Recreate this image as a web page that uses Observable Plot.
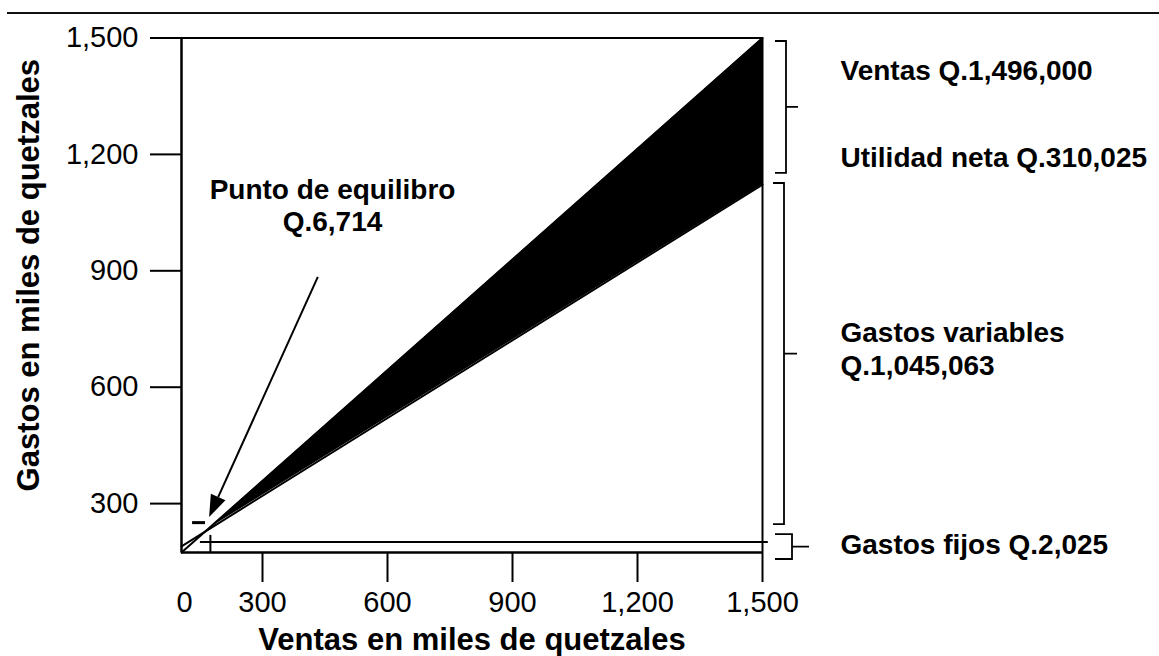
<!DOCTYPE html>
<html><head><meta charset="utf-8">
<script src="https://cdn.jsdelivr.net/npm/d3@7"></script>
<script src="https://cdn.jsdelivr.net/npm/@observablehq/plot@0.6"></script>
<style>
body{margin:0;background:#fff;}
#wrap{position:relative;width:1159px;height:656px;overflow:hidden;background:#fff;}
#rule{position:absolute;left:7px;right:0;top:12px;border-top:2.5px solid #111;}
#chart{position:absolute;left:0;top:0;}
svg text{font-family:"Liberation Sans",Arial,Helvetica,sans-serif;}
</style></head><body><div id="wrap"><div id="rule"></div><div id="chart"></div></div>
<script>
// ---- data (miles de quetzales) ----
const xTicks = [300, 600, 900, 1200, 1500];
const yTicks = [300, 600, 900, 1200, 1500];
const ventasX = [0, 1500];
const ventasY = [174, 1500];
const gastosX = [0, 1500];
const gastosY = [190, 1122];
const equilibrioX = 100;
const equilibrioY = 235;
const gastosFijosY = 201;
const gastosFijosX = [70, 1514];
const yBottom = 174;
const yTop = 1500;
const xTitle = "Ventas en miles de quetzales";
const yTitle = "Gastos en miles de quetzales";
const equilibrioLabel = "Punto de equilibro\nQ.6,714";
const equilibrioLabelPos = [468, 1070];
const arrowFrom = [434, 883];
const arrowTo = [104, 264];
const markerH = {y: 251, x1: 41, x2: 89};
const markerV = {x: 107, y1: 218, y2: 174};
const rightLabels = ["Ventas Q.1,496,000", "Utilidad neta Q.310,025", "Gastos variables\nQ.1,045,063", "Gastos fijos Q.2,025"];
const rightLabelY = [1419, 1195, 701, 197];
const braceTop = [1491, 1125, 220];
const braceBottom = [1151, 246, 156];

const FONT = '"Liberation Sans",Arial,Helvetica,sans-serif';
const ventas = ventasX.map((x, i) => ({x, y: ventasY[i]}));
const gastos = gastosX.map((x, i) => ({x, y: gastosY[i]}));
const utilidad = [
  {x: equilibrioX, y1: equilibrioY, y2: equilibrioY},
  {x: ventasX[1], y1: gastosY[1], y2: ventasY[1]}
];
const rightData = rightLabels.map((t, i) => ({t, x: 1500, y: rightLabelY[i]}));

// brace geometry in pixel offsets from the right edge of the frame
const braceStyle = [
  {hook: 13, vert: 24, nub: 36},
  {hook: 11, vert: 22, nub: 35},
  {hook: 13, vert: 30, nub: 47}
];

function annotations(index, scales) {
  const g = d3.create("svg:g").attr("fill", "none").attr("stroke", "#000");
  const xr = scales.x(1500);
  braceTop.forEach((t, i) => {
    const s = braceStyle[i];
    const y1 = scales.y(t), y2 = scales.y(braceBottom[i]), ym = (y1 + y2) / 2;
    const xl = xr + s.hook, xv = xr + s.vert, xn = xr + s.nub;
    g.append("path")
      .attr("d", `M${xl},${y1}H${xv}V${y2}H${xl}M${xv},${ym}H${xn}`)
      .attr("stroke-width", 1.8);
  });
  // arrow
  const x0 = scales.x(arrowFrom[0]), y0 = scales.y(arrowFrom[1]);
  const x1 = scales.x(arrowTo[0]), y1 = scales.y(arrowTo[1]);
  const ang = Math.atan2(y1 - y0, x1 - x0);
  const L = 22, W = 8;
  const bx = x1 - L * Math.cos(ang), by = y1 - L * Math.sin(ang);
  const px = -Math.sin(ang) * W, py = Math.cos(ang) * W;
  g.append("line").attr("x1", x0).attr("y1", y0).attr("x2", bx).attr("y2", by).attr("stroke-width", 2);
  g.append("path").attr("d", `M${x1},${y1}L${bx + px},${by + py}L${bx - px},${by - py}Z`)
    .attr("fill", "#000").attr("stroke", "none");
  return g.node();
}

const chart = Plot.plot({
  width: 1159,
  height: 656,
  marginLeft: 181,
  marginRight: 397,
  marginTop: 37.5,
  marginBottom: 104,
  style: {fontFamily: FONT, fontSize: "29px", color: "#000", background: "transparent"},
  x: {type: "linear", domain: [0, 300, 1500], range: [181, 262, 762], axis: null},
  y: {type: "linear", domain: [yBottom, yTop], axis: null},
  marks: [
    Plot.areaY(utilidad, {x: "x", y1: "y1", y2: "y2", fill: "#000"}),
    Plot.line(ventas, {x: "x", y: "y", stroke: "#000", strokeWidth: 2}),
    Plot.line(gastos, {x: "x", y: "y", stroke: "#000", strokeWidth: 2}),
    Plot.ruleY([gastosFijosY], {x1: gastosFijosX[0], x2: gastosFijosX[1], stroke: "#000", strokeWidth: 2}),
    Plot.ruleY([markerH.y], {x1: markerH.x1, x2: markerH.x2, stroke: "#000", strokeWidth: 3}),
    Plot.ruleX([markerV.x], {y1: markerV.y1, y2: markerV.y2, stroke: "#000", strokeWidth: 2}),
    Plot.ruleY([yBottom], {stroke: "#000", strokeWidth: 2.5}),
    Plot.ruleY([yTop], {stroke: "#000", strokeWidth: 2}),
    Plot.ruleX([0], {stroke: "#000", strokeWidth: 2.5}),
    Plot.ruleX([1500], {stroke: "#000", strokeWidth: 2}),
    Plot.axisX(xTicks, {tickSize: 30, tickPadding: 9, fontSize: 29, strokeWidth: 2, tickFormat: d3.format(","), label: null}),
    Plot.axisX([0], {tickSize: 0, tickPadding: 39, fontSize: 29, dx: 3, tickFormat: d3.format(","), label: null}),
    Plot.axisY(yTicks, {tickSize: 31, tickPadding: 12, fontSize: 29, strokeWidth: 2, tickFormat: d3.format(","), label: null}),
    Plot.text([xTitle], {frameAnchor: "bottom", dy: 88, fontSize: 31, fontWeight: "bold", lineAnchor: "middle", fill: "#000"}),
    Plot.text([yTitle], {frameAnchor: "left", textAnchor: "middle", dx: -152, dy: -20, rotate: -90, fontSize: 31, fontWeight: "bold", lineAnchor: "middle", fill: "#000"}),
    Plot.text([equilibrioLabel], {x: () => equilibrioLabelPos[0], y: () => equilibrioLabelPos[1], fontSize: 28, fontWeight: "bold", lineHeight: 1.14, fill: "#000"}),
    Plot.text(rightData, {x: "x", y: "y", text: "t", dx: 78, textAnchor: "start", fontSize: 28, fontWeight: "bold", lineHeight: 1.18, fill: "#000"}),
    annotations
  ]
});
document.getElementById("chart").appendChild(chart);
</script>
</body></html>
